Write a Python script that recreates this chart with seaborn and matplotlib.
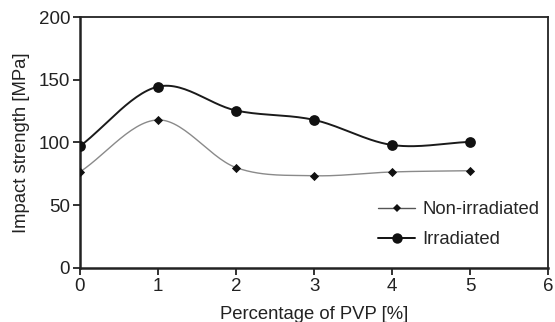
import numpy as np
import pandas as pd
import matplotlib
matplotlib.use("Agg")
import matplotlib.pyplot as plt
import seaborn as sns
from matplotlib.lines import Line2D

# values
pvp = [0, 1, 2, 3, 4, 5]
non_irradiated = [76.5, 118, 80, 73.5, 76.5, 77.5]
irradiated = [97, 144.5, 125.5, 118, 98, 100.5]


def smooth(x, y, n=30):
    # catmull-rom curve through the points, only for drawing the line
    x = np.asarray(x, float)
    y = np.asarray(y, float)
    px = np.concatenate([[2 * x[0] - x[1]], x, [2 * x[-1] - x[-2]]])
    py = np.concatenate([[2 * y[0] - y[1]], y, [2 * y[-1] - y[-2]]])
    t = np.linspace(0, 1, n)
    xs, ys = [], []
    for i in range(1, len(px) - 2):
        for p, out in ((px, xs), (py, ys)):
            p0, p1, p2, p3 = p[i - 1], p[i], p[i + 1], p[i + 2]
            out.append(0.5 * ((2 * p1) + (-p0 + p2) * t
                              + (2 * p0 - 5 * p1 + 4 * p2 - p3) * t ** 2
                              + (-p0 + 3 * p1 - 3 * p2 + p3) * t ** 3))
    return np.concatenate(xs), np.concatenate(ys)


sns.set_style("ticks")
plt.rcParams["font.family"] = ["Liberation Sans", "DejaVu Sans"]

fig, ax = plt.subplots(figsize=(5.55, 3.22), dpi=100)
fig.subplots_adjust(left=0.144, right=0.988, top=0.947, bottom=0.168)

df = pd.DataFrame({"pvp": pvp, "non": non_irradiated, "irr": irradiated})

sx, sy = smooth(pvp, non_irradiated)
ax.plot(sx, sy, color="#8a8a8a", lw=1.0, zorder=2)
sx, sy = smooth(pvp, irradiated)
ax.plot(sx, sy, color="#1a1a1a", lw=1.4, zorder=2)

sns.scatterplot(data=df, x="pvp", y="non", marker="D", s=22, color="#111111",
                edgecolor="#111111", linewidth=0, ax=ax, zorder=3)
sns.scatterplot(data=df, x="pvp", y="irr", marker="o", s=60, color="#111111",
                edgecolor="#111111", linewidth=0, ax=ax, zorder=3)

ax.set_xlim(0, 6)
ax.set_ylim(0, 200)
ax.set_xticks(range(0, 7))
ax.set_yticks(range(0, 201, 50))
ax.set_xlabel("Percentage of PVP [%]", fontsize=13.3, color="#222222", labelpad=8)
ax.set_ylabel("Impact strength [MPa]", fontsize=13.3, color="#222222", labelpad=6)
ax.tick_params(axis="both", labelsize=13.5, colors="#222222", length=5, width=1.3, pad=2)

for side in ["left", "bottom"]:
    ax.spines[side].set_linewidth(1.8)
for side in ["top", "right"]:
    ax.spines[side].set_linewidth(1.3)
for s in ax.spines.values():
    s.set_color("#222222")

handles = [
    Line2D([], [], color="#555555", lw=1.0, marker="D", markersize=4.5,
           markerfacecolor="#111111", markeredgewidth=0),
    Line2D([], [], color="#111111", lw=1.4, marker="o", markersize=7.5,
           markerfacecolor="#111111", markeredgewidth=0),
]
ax.legend(handles, ["Non-irradiated", "Irradiated"], loc="lower right",
          bbox_to_anchor=(1.017, 0.012), frameon=False, fontsize=13.3,
          handlelength=2.0, handletextpad=0.4, labelspacing=0.7)

fig.savefig("out.png", dpi=100)
